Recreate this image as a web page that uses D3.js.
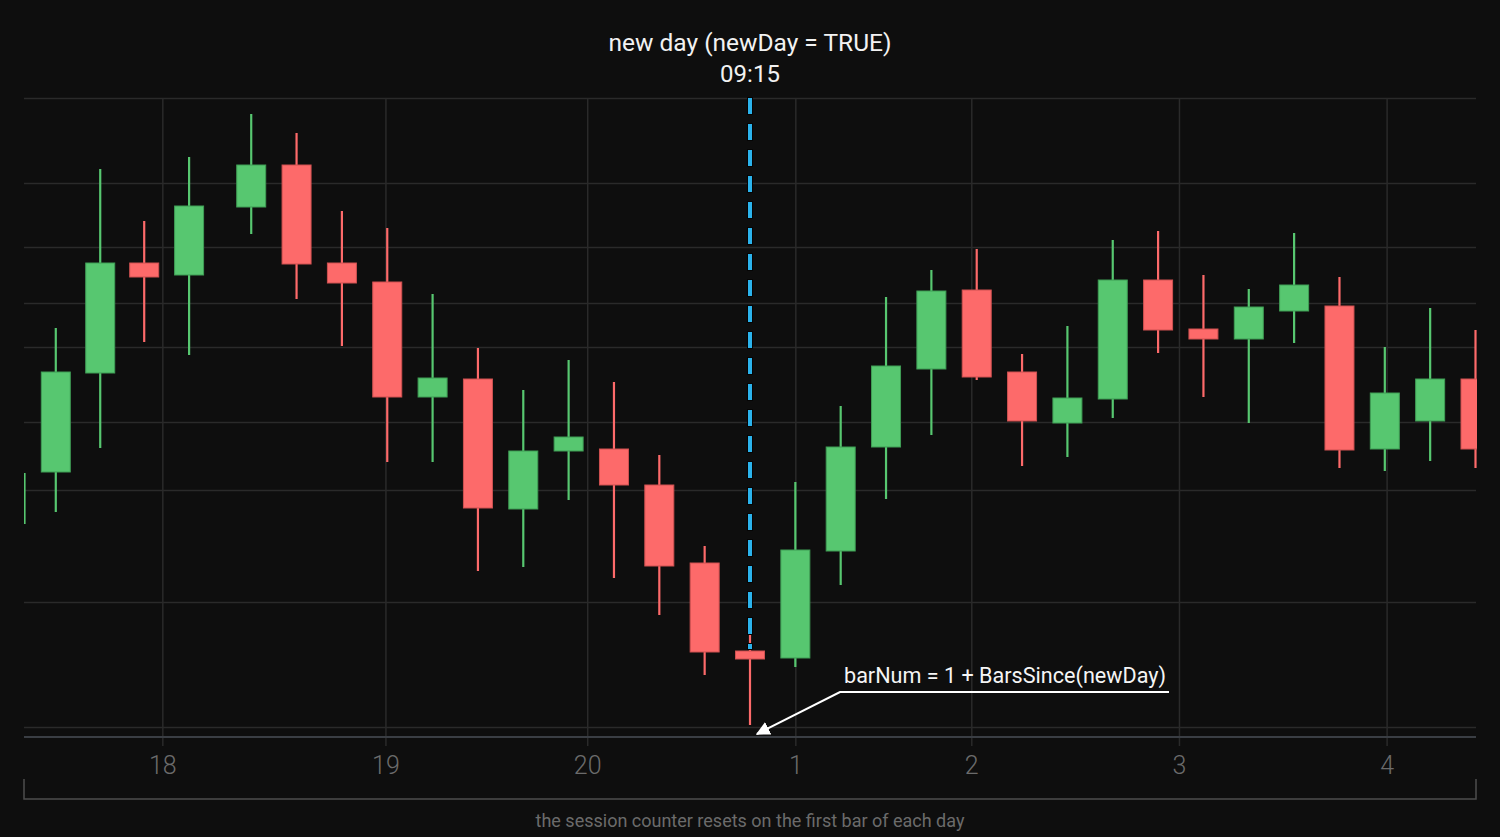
<!DOCTYPE html>
<html>
<head>
<meta charset="utf-8">
<script src="https://cdn.jsdelivr.net/npm/d3@7"></script>
<style>
  html, body { margin: 0; background: #0e0e0e; }
  svg { display: block; font-family: Roboto, "Noto Sans", sans-serif; }
</style>
</head>
<body>
<svg id="chart" width="1500" height="837"></svg>
<script>
// Intraday candles around a session change (prices are arbitrary units)
var opens  = [123.4, 126.5, 136.4, 147.4, 146.2, 153.0, 157.2, 147.4, 145.5, 134.0, 135.8, 122.8, 128.6, 128.8, 125.2, 117.4, 108.6,
              107.9, 118.6, 129.0, 136.8, 144.7, 136.5, 131.4, 133.8, 145.7, 140.8, 139.8, 142.6, 143.1, 128.8, 131.6, 135.8];
var highs  = [126.4, 140.9, 156.8, 151.6, 158.0, 162.3, 160.4, 152.6, 150.9, 144.3, 138.9, 134.7, 137.7, 135.5, 128.2, 119.1, 111.3,
              125.5, 133.1, 144.0, 146.7, 148.8, 138.3, 141.1, 149.7, 150.6, 146.2, 144.8, 150.4, 146.0, 139.0, 142.9, 140.7];
var lows   = [121.3, 122.5, 128.9, 139.5, 138.2, 150.3, 143.8, 139.1, 127.5, 127.5, 116.6, 117.0, 123.7, 115.9, 112.2, 106.2, 101.2,
              107.0, 115.2, 123.8, 130.2, 135.7, 127.1, 128.0, 131.9, 138.4, 134.0, 131.4, 139.4, 126.9, 126.6, 127.6, 126.9];
var closes = [123.4, 136.5, 147.4, 146.0, 153.1, 157.2, 147.3, 145.4, 134.0, 135.9, 122.9, 128.6, 130.0, 125.2, 117.1, 108.5, 107.8,
              118.7, 129.0, 137.1, 144.6, 136.0, 131.6, 133.9, 145.7, 140.7, 139.8, 143.0, 145.2, 128.7, 134.4, 135.8, 128.8];

// time position of each bar, in bar slots (the first few bars are unevenly spaced)
var barSlot = [0, 0.69, 1.67, 2.64, 3.63, 5, 6, 7, 8, 9, 10, 11, 12, 13, 14, 15, 16,
               17, 18, 19, 20, 21, 22, 23, 24, 25, 26, 27, 28, 29, 30, 31, 32];

var newDayBar = 16;   // first bar of the new session (09:15)

// day labels on the time axis, placed at fractional bar slots
var dayTickPos    = [3.04, 7.96, 12.41, 17, 20.88, 25.46, 30.04];
var dayTickLabels = ["18", "19", "20", "1", "2", "3", "4"];

// horizontal price grid levels
var gridPrices = [163.9, 155.4, 149.0, 143.4, 139.0, 131.5, 124.7, 113.5, 101.0];

var upColor = "#57c770", downColor = "#fd6a6a"
  , upEdge = "#3f9d55", downEdge = "#cf5151"
  , plotLeft = 24, plotRight = 1476, plotTop = 98, baseY = 737
  ;

var svg = d3.select("#chart");

svg.append("rect").attr("width", 1500).attr("height", 837).attr("fill", "#0e0e0e");

var x = d3.scaleLinear().domain([0, 32]).range([plotLeft + 0.5, plotRight - 0.5]);
var y = d3.scaleLinear().domain([100, 163.9]).range([baseY, plotTop]);

// Horizontal grid
svg.append("g")
   .attr("class", "grid-y")
   .attr("transform", "translate(" + plotLeft + ",0)")
   .call(d3.axisLeft(y).tickValues(gridPrices).tickSize(-(plotRight - plotLeft)).tickFormat(""))
   .call(function (g) { g.select(".domain").remove(); })
   .selectAll("line")
   .attr("stroke", "#2a2a2a")
   .attr("stroke-width", 1.5);

// Vertical grid + day labels
var axisY = 746;
var xAxis = svg.append("g")
   .attr("transform", "translate(0," + axisY + ")")
   .call(d3.axisBottom(x)
           .tickValues(dayTickPos)
           .tickFormat(function (d, i) { return dayTickLabels[i]; })
           .tickSize(-(axisY - plotTop))
           .tickPadding(10));
xAxis.select(".domain").remove();
xAxis.selectAll("line").attr("stroke", "#2a2a2a").attr("stroke-width", 1.5);
xAxis.selectAll("text")
     .attr("fill", "#6b6b6b")
     .style("font-size", "25px")
     .style("font-weight", 300)
     .style("font-family", "Roboto, sans-serif");

// Baseline
svg.append("line")
   .attr("x1", plotLeft).attr("x2", plotRight)
   .attr("y1", baseY).attr("y2", baseY)
   .attr("stroke", "#3a3e44")
   .attr("stroke-width", 2);

// Candles
svg.append("clipPath").attr("id", "plot-clip")
   .append("rect")
   .attr("x", plotLeft).attr("y", plotTop - 10)
   .attr("width", plotRight - plotLeft + 1).attr("height", baseY - plotTop + 10);

var bodyW = 29;
var candles = svg.append("g").attr("clip-path", "url(#plot-clip)")
   .selectAll("g.candle")
   .data(d3.range(opens.length))
   .enter().append("g")
   .attr("class", "candle");

candles.append("line")
   .attr("x1", function (i) { return x(barSlot[i]); })
   .attr("x2", function (i) { return x(barSlot[i]); })
   .attr("y1", function (i) { return y(highs[i]); })
   .attr("y2", function (i) { return y(lows[i]); })
   .attr("stroke", function (i) { return closes[i] >= opens[i] ? upColor : downColor; })
   .attr("stroke-width", 2.2);

candles.filter(function (i) { return Math.abs(closes[i] - opens[i]) > 0.05; })
   .append("rect")
   .attr("x", function (i) { return x(barSlot[i]) - bodyW / 2; })
   .attr("y", function (i) { return y(Math.max(opens[i], closes[i])); })
   .attr("width", bodyW)
   .attr("height", function (i) { return Math.abs(y(opens[i]) - y(closes[i])); })
   .attr("fill", function (i) { return closes[i] >= opens[i] ? upColor : downColor; })
   .attr("stroke", function (i) { return closes[i] >= opens[i] ? upEdge : downEdge; })
   .attr("stroke-width", 1);

// Session start marker
var markX = x(barSlot[newDayBar]);
var dashEnd = y(opens[newDayBar]) - 2;
svg.append("line")
   .attr("x1", markX).attr("x2", markX)
   .attr("y1", plotTop - 1).attr("y2", dashEnd + 1)
   .attr("stroke", "#050505")
   .attr("stroke-width", 6)
   .attr("stroke-dasharray", "18 8");
svg.append("line")
   .attr("x1", markX).attr("x2", markX)
   .attr("y1", plotTop).attr("y2", dashEnd)
   .attr("stroke", "#2bb3ec")
   .attr("stroke-width", 4)
   .attr("stroke-dasharray", "16 10");

svg.append("text")
   .attr("x", markX).attr("y", 51)
   .attr("text-anchor", "middle")
   .attr("fill", "#f2f2f2")
   .style("font-size", "24.5px")
   .text("new day (newDay = TRUE)");
svg.append("text")
   .attr("x", markX).attr("y", 82)
   .attr("text-anchor", "middle")
   .attr("fill", "#f2f2f2")
   .style("font-size", "24px")
   .text("09:15");

// barNum annotation with leader arrow
svg.append("defs").append("marker")
   .attr("id", "arrow")
   .attr("viewBox", "0 0 10 10")
   .attr("refX", 9).attr("refY", 5)
   .attr("markerWidth", 7).attr("markerHeight", 7)
   .attr("markerUnits", "strokeWidth")
   .attr("orient", "auto")
   .append("path")
   .attr("d", "M0,0 L10,5 L0,10 Z")
   .attr("fill", "#ffffff");

var noteX = 844, noteY = 683;
svg.append("text")
   .attr("x", noteX).attr("y", noteY)
   .attr("fill", "#f5f5f5")
   .style("font-size", "21.6px")
   .text("barNum = 1 + BarsSince(newDay)");
svg.append("path")
   .attr("d", "M1169,692 L840,692 L757,734")
   .attr("fill", "none")
   .attr("stroke", "#ffffff")
   .attr("stroke-width", 2)
   .attr("marker-end", "url(#arrow)");

// Bracket and caption under the axis
svg.append("path")
   .attr("d", "M" + plotLeft + ",779 V799 H" + plotRight + " V779")
   .attr("fill", "none")
   .attr("stroke", "#4d4d4d")
   .attr("stroke-width", 1.5);

svg.append("text")
   .attr("x", 750).attr("y", 827)
   .attr("text-anchor", "middle")
   .attr("fill", "#6b6b6b")
   .style("font-size", "18px")
   .text("the session counter resets on the first bar of each day");
</script>
</body>
</html>
